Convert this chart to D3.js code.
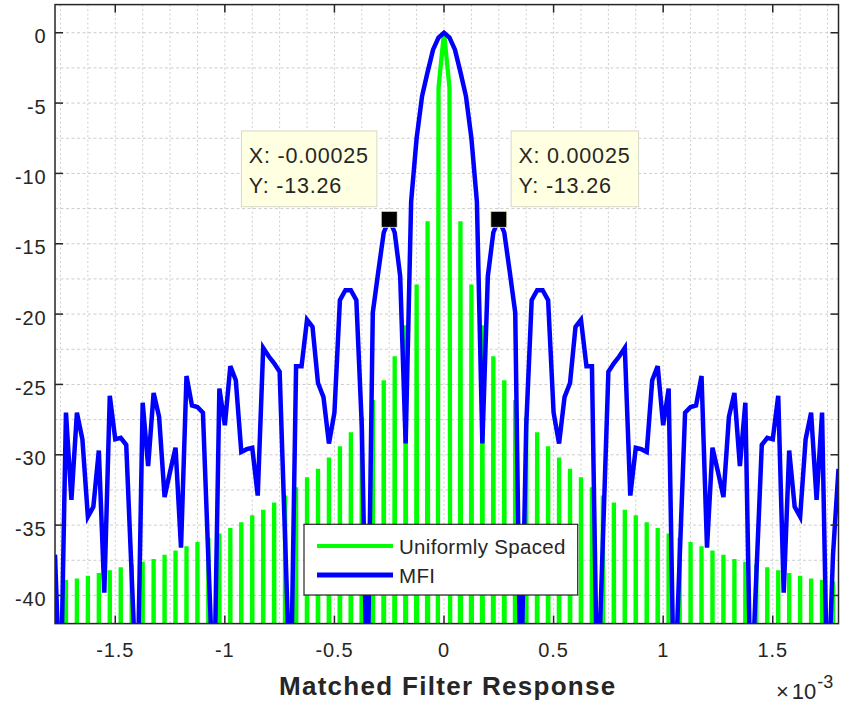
<!DOCTYPE html>
<html><head><meta charset="utf-8">
<script src="https://cdn.jsdelivr.net/npm/d3@7"></script>
<style>
body{margin:0;background:#fff;}
svg{display:block;}
text{font-family:"Liberation Sans",Arial,Helvetica,sans-serif;fill:#262626;}
</style></head><body>
<svg id="chart" width="842" height="706"></svg>
<script>
// x positions (units of 1e-3)
const delay = [-1.775,-1.75,-1.725,-1.7,-1.675,-1.65,-1.625,-1.6,-1.575,-1.55,-1.525,-1.5,-1.475,-1.45,-1.425,-1.4,-1.375,-1.35,-1.325,-1.3,-1.275,-1.25,-1.225,-1.2,-1.175,-1.15,-1.125,-1.1,-1.075,-1.05,-1.025,-1,-0.975,-0.95,-0.925,-0.9,-0.875,-0.85,-0.825,-0.8,-0.775,-0.75,-0.725,-0.7,-0.675,-0.65,-0.625,-0.6,-0.575,-0.55,-0.525,-0.5,-0.475,-0.45,-0.425,-0.4,-0.375,-0.35,-0.325,-0.3,-0.275,-0.25,-0.225,-0.2,-0.175,-0.15,-0.125,-0.1,-0.075,-0.05,-0.025,0,0.025,0.05,0.075,0.1,0.125,0.15,0.175,0.2,0.225,0.25,0.275,0.3,0.325,0.35,0.375,0.4,0.425,0.45,0.475,0.5,0.525,0.55,0.575,0.6,0.625,0.65,0.675,0.7,0.725,0.75,0.775,0.8,0.825,0.85,0.875,0.9,0.925,0.95,0.975,1,1.025,1.05,1.075,1.1,1.125,1.15,1.175,1.2,1.225,1.25,1.275,1.3,1.325,1.35,1.375,1.4,1.425,1.45,1.475,1.5,1.525,1.55,1.575,1.6,1.625,1.65,1.675,1.7,1.725,1.75,1.775,1.8];
// Uniformly Spaced response (dB); -300 = numerical null
const uniformDb = [-39.0,-300,-38.9,-300,-38.8,-300,-38.6,-300,-38.4,-300,-38.2,-300,-38.0,-300,-37.8,-300,-37.6,-300,-37.4,-300,-37.1,-300,-36.8,-300,-36.5,-300,-36.2,-300,-35.9,-300,-35.6,-300,-35.2,-300,-34.8,-300,-34.3,-300,-33.9,-300,-33.4,-300,-32.9,-300,-32.3,-300,-31.6,-300,-31.0,-300,-30.2,-300,-29.4,-300,-28.4,-300,-27.3,-300,-26.1,-300,-24.7,-300,-23.0,-300,-20.8,-300,-17.9,-300,-13.4,-300,-3.9,0,-3.9,-300,-13.4,-300,-17.9,-300,-20.8,-300,-23.0,-300,-24.7,-300,-26.1,-300,-27.3,-300,-28.4,-300,-29.4,-300,-30.2,-300,-31.0,-300,-31.6,-300,-32.3,-300,-32.9,-300,-33.4,-300,-33.9,-300,-34.3,-300,-34.8,-300,-35.2,-300,-35.6,-300,-35.9,-300,-36.2,-300,-36.5,-300,-36.8,-300,-37.1,-300,-37.4,-300,-37.6,-300,-37.8,-300,-38.0,-300,-38.2,-300,-38.4,-300,-38.6,-300,-38.8,-300,-38.9,-300,-39.0,-300];
// MFI response (dB)
const mfiDb = [-37.1,-48,-27.0,-33.2,-27.0,-28.9,-34.4,-33.7,-29.7,-39.8,-25.8,-28.9,-28.8,-29.3,-38.6,-48,-26.3,-30.8,-25.6,-27.3,-33.0,-31.2,-29.5,-36.6,-24.4,-26.5,-26.6,-27.0,-37.5,-48,-25.3,-27.9,-23.7,-24.7,-29.8,-29.6,-29.5,-32.9,-22.4,-23.0,-23.5,-24.1,-36,-48,-23.7,-23.7,-20.4,-20.9,-24.9,-25.9,-29.2,-27.0,-19.0,-18.3,-18.3,-19.0,-28,-48,-19.9,-17.0,-14.2,-13.26,-14.2,-17.3,-29.2,-12.0,-7.5,-4.5,-2.8,-1.2,-0.35,0,-0.35,-1.2,-2.8,-4.5,-7.5,-12.0,-29.2,-17.3,-14.2,-13.26,-14.2,-17.0,-19.9,-48,-28,-19.0,-18.3,-18.3,-19.0,-27.0,-29.2,-25.9,-24.9,-20.9,-20.4,-23.7,-23.7,-48,-36,-24.1,-23.5,-23.0,-22.4,-32.9,-29.5,-29.6,-29.8,-24.7,-23.7,-27.9,-25.3,-48,-37.5,-27.0,-26.6,-26.5,-24.4,-36.6,-29.5,-31.2,-33.0,-27.3,-25.6,-30.8,-26.3,-48,-38.6,-29.3,-28.8,-28.9,-25.8,-39.8,-29.7,-33.7,-34.4,-28.9,-27.0,-33.2,-27.0,-48,-37.1,-31.0];

const xTicks = [-1.5,-1,-0.5,0,0.5,1,1.5];
const xTickLabels = ["-1.5","-1","-0.5","0","0.5","1","1.5"];
const yTicks = [0,-5,-10,-15,-20,-25,-30,-35,-40];
const yTickLabels = ["0","-5","-10","-15","-20","-25","-30","-35","-40"];
const seriesNames = ["Uniformly Spaced","MFI"];
const seriesColors = ["#00ff00","#0000ff"];
const tipX = [-0.25, 0.25];
const tipY = [-13.26, -13.26];
const tipXText = ["X: -0.00025","X: 0.00025"];
const tipYText = ["Y: -13.26","Y: -13.26"];
const xLabel = "Matched Filter Response";

const svg = d3.select("#chart");
const L=55, R=838.5, T=4.6, B=623.6;
const x = d3.scaleLinear().domain([-1.775,1.8]).range([L,R]);
const y = d3.scaleLinear().domain([-42,2]).range([B,T]);
const axisColor = "#262626";

// grid
const gGrid = svg.append("g");
const xMinor = d3.range(-1.75, 1.7501, 0.125);
const yMinor = d3.range(-40, 0.001, 2.5);
gGrid.selectAll("line.vx").data(xMinor).join("line")
  .attr("x1",d=>x(d)).attr("x2",d=>x(d)).attr("y1",T).attr("y2",B)
  .attr("stroke","#cdcdcd").attr("stroke-width",1).attr("stroke-dasharray","2,2.5");
gGrid.selectAll("line.hy").data(yMinor).join("line")
  .attr("x1",L).attr("x2",R).attr("y1",d=>y(d)).attr("y2",d=>y(d))
  .attr("stroke","#cdcdcd").attr("stroke-width",1).attr("stroke-dasharray","3,2.5");

// clip
svg.append("clipPath").attr("id","clip").append("rect").attr("x",L).attr("y",T).attr("width",R-L).attr("height",B-T);
const line = d3.line().x(d=>x(d[0])).y(d=>y(d[1]));
const plot = svg.append("g").attr("clip-path","url(#clip)");
plot.append("path").datum(delay.map((d,i)=>[d,uniformDb[i]]))
  .attr("d",line).attr("fill","none").attr("stroke",seriesColors[0]).attr("stroke-width",4.3);
plot.append("path").datum(delay.map((d,i)=>[d,mfiDb[i]]))
  .attr("d",line).attr("fill","none").attr("stroke",seriesColors[1]).attr("stroke-width",4.5).attr("stroke-linejoin","miter");

// axes box
svg.append("rect").attr("x",L).attr("y",T).attr("width",R-L).attr("height",B-T)
  .attr("fill","none").attr("stroke",axisColor).attr("stroke-width",1.5);
const tl = 8;
const ax = svg.append("g");
ax.selectAll("line.xb").data(xTicks).join("line").attr("x1",d=>x(d)).attr("x2",d=>x(d)).attr("y1",B).attr("y2",B-tl).attr("stroke",axisColor).attr("stroke-width",1.5);
ax.selectAll("line.xt").data(xTicks).join("line").attr("x1",d=>x(d)).attr("x2",d=>x(d)).attr("y1",T).attr("y2",T+tl).attr("stroke",axisColor).attr("stroke-width",1.5);
ax.selectAll("line.yl").data(yTicks).join("line").attr("y1",d=>y(d)).attr("y2",d=>y(d)).attr("x1",L).attr("x2",L+tl).attr("stroke",axisColor).attr("stroke-width",1.5);
ax.selectAll("line.yr").data(yTicks).join("line").attr("y1",d=>y(d)).attr("y2",d=>y(d)).attr("x1",R).attr("x2",R-tl).attr("stroke",axisColor).attr("stroke-width",1.5);
ax.selectAll("text.xl").data(xTicks).join("text").attr("x",d=>x(d)).attr("y",656.5)
  .attr("text-anchor","middle").attr("font-size",20).attr("letter-spacing","0.9px").text((d,i)=>xTickLabels[i]);
ax.selectAll("text.yl").data(yTicks).join("text").attr("x",46.5).attr("y",d=>y(d)+10.5)
  .attr("text-anchor","end").attr("font-size",20).attr("letter-spacing","0.9px").text((d,i)=>yTickLabels[i]);
svg.append("text").attr("x",(L+R)/2+1).attr("y",695).attr("text-anchor","middle")
  .attr("font-size",26).attr("font-weight","bold").attr("letter-spacing","1.3px").text(xLabel);
const ex = svg.append("text").attr("x",776).attr("y",698.5).attr("font-size",22).attr("fill","#404040");
ex.append("tspan").text("\u00d7");
ex.append("tspan").attr("dx",3).text("10");
ex.append("tspan").attr("dy",-11).attr("dx",1).attr("font-size",18).text("-3");

// legend
const lg = svg.append("g");
lg.append("rect").attr("x",304).attr("y",524.3).attr("width",273.7).attr("height",70.7).attr("fill","#fff").attr("stroke",axisColor).attr("stroke-width",1.2);
seriesNames.forEach((n,i)=>{
  const yy = 546 + i*29;
  lg.append("line").attr("x1",317).attr("x2",393).attr("y1",yy).attr("y2",yy).attr("stroke",seriesColors[i]).attr("stroke-width",i?4.8:4.2);
  lg.append("text").attr("x",399).attr("y",yy+7.5).attr("font-size",20.5).attr("letter-spacing","0.3px").text(n);
});

// data tips
tipX.forEach((tx,i)=>{
  const px = x(tx), py = y(tipY[i]);
  const g = svg.append("g");
  const t1 = g.append("text").attr("font-size",21.5).attr("letter-spacing","0.8px").text(tipXText[i]);
  const t2 = g.append("text").attr("font-size",21.5).attr("letter-spacing","0.8px").text(tipYText[i]);
  const w = Math.max(t1.node().getComputedTextLength(), t2.node().getComputedTextLength()) + 15.5;
  const h = 75.7;
  const bx = i===0 ? px - 12.3 - w : px + 12.3;
  const by = py - 12.6 - h;
  g.insert("rect","text").attr("x",bx).attr("y",by).attr("width",w).attr("height",h)
    .attr("fill","#ffffe1").attr("stroke","#d8d8c8").attr("stroke-width",1);
  t1.attr("x",bx+7.3).attr("y",by+32.3);
  t2.attr("x",bx+7.3).attr("y",by+62.3);
  svg.append("rect").attr("x",px-8).attr("y",py-8).attr("width",16).attr("height",16)
    .attr("fill","#000").attr("stroke","#f5f0c8").attr("stroke-width",0.8);
});
</script>
</body></html>
